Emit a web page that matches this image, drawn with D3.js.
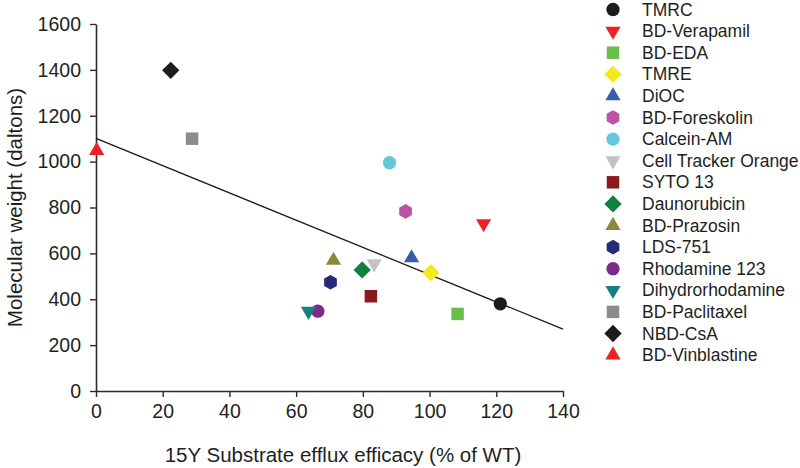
<!DOCTYPE html>
<html>
<head>
<meta charset="utf-8">
<script src="https://cdn.jsdelivr.net/npm/d3@7"></script>
<style>
  html, body { margin: 0; padding: 0; background: #fff; }
  svg { display: block; font-family: "Liberation Sans", Arial, Helvetica, sans-serif; }
</style>
</head>
<body>
<svg id="chart" width="800" height="468"></svg>
<script>
// ---- data ----
const substances = ["TMRC", "BD-Verapamil", "BD-EDA", "TMRE", "DiOC", "BD-Foreskolin",
  "Calcein-AM", "Cell Tracker Orange", "SYTO 13", "Daunorubicin", "BD-Prazosin",
  "LDS-751", "Rhodamine 123", "Dihydrorhodamine", "BD-Paclitaxel", "NBD-CsA", "BD-Vinblastine"];
const effluxEfficacy = [121.2, 116.2, 108.4, 100.4, 94.6, 92.8, 88.0, 83.4, 82.4, 79.8, 71.2,
  70.3, 66.5, 63.7, 28.8, 22.4, 0.2];
const molecularWeight = [380, 730, 336, 516, 580, 783, 995, 555, 413, 528, 569,
  474, 348, 348, 1100, 1398, 1048];
const markerShapes = ["circle", "triangleDown", "square", "diamond", "triangle", "hexagon",
  "circle", "triangleDown", "square", "diamond", "triangle",
  "hexagon", "circle", "triangleDown", "square", "diamond", "triangle"];
const markerColors = ["#1c1c1c", "#ee2127", "#6abf4b", "#f4e91c", "#3a5daa", "#bb52a4",
  "#65c7db", "#c2c2c2", "#8b1a1d", "#0f8140", "#878a3a",
  "#262a78", "#7d2b8b", "#168082", "#8c8c8c", "#1c1c1c", "#ee2127"];
const xTicks = [0, 20, 40, 60, 80, 100, 120, 140];
const yTicks = [0, 200, 400, 600, 800, 1000, 1200, 1400, 1600];
const fitX = [0, 140];
const fitY = [1101, 270];
const xTitle = "15Y Substrate efflux efficacy (% of WT)";
const yTitle = "Molecular weight (daltons)";

// ---- layout ----
const svg = d3.select("#chart");
const plot = { left: 96, right: 563, top: 24, bottom: 391 };
const x = d3.scaleLinear().domain([0, 140]).range([plot.left, plot.right]);
const y = d3.scaleLinear().domain([0, 1600]).range([plot.bottom, plot.top]);
const axisColor = "#2b2b2b";
const textColor = "#231f20";

const hexagon = {
  draw(context, size) {
    const r = Math.sqrt(size * 2 / (3 * Math.sqrt(3)));
    for (let i = 0; i < 6; i++) {
      const a = Math.PI / 3 * i - Math.PI / 2;
      const px = r * Math.cos(a), py = r * Math.sin(a);
      if (i === 0) context.moveTo(px, py); else context.lineTo(px, py);
    }
    context.closePath();
  }
};
const shapeDefs = {
  circle: { type: d3.symbolCircle, size: 140, rot: 0 },
  square: { type: d3.symbolSquare, size: 156, rot: 0 },
  diamond: { type: d3.symbolSquare, size: 150, rot: 45 },
  triangle: { type: d3.symbolTriangle, size: 100, rot: 0 },
  triangleDown: { type: d3.symbolTriangle, size: 100, rot: 180 },
  hexagon: { type: hexagon, size: 140, rot: 0 }
};
function marker(sel, shape, color) {
  const d = shapeDefs[shape];
  sel.append("path")
    .attr("d", d3.symbol().type(d.type).size(d.size)())
    .attr("transform", `rotate(${d.rot})`)
    .attr("fill", color);
}

// ---- axes ----
const xAxis = d3.axisBottom(x).tickValues(xTicks).tickFormat(d3.format("d"))
  .tickSize(6).tickSizeOuter(0).tickPadding(7);
const yAxis = d3.axisLeft(y).tickValues(yTicks).tickFormat(d3.format("d"))
  .tickSize(6).tickSizeOuter(0).tickPadding(9);

const gx = svg.append("g").attr("transform", `translate(0,${plot.bottom})`).call(xAxis);
const gy = svg.append("g").attr("transform", `translate(${plot.left},0)`).call(yAxis);
[gx, gy].forEach(g => {
  g.select(".domain").attr("stroke", axisColor).attr("stroke-width", 1.6);
  g.selectAll(".tick line").attr("stroke", axisColor).attr("stroke-width", 1.4);
  g.selectAll(".tick text").attr("fill", textColor)
    .style("font-size", "19.5px").style("font-family", "'Liberation Sans', Arial, sans-serif");
});
// axis titles
svg.append("text").attr("x", 343).attr("y", 462)
  .attr("text-anchor", "middle").attr("fill", textColor).style("font-size", "20.5px")
  .text(xTitle);
svg.append("text").attr("transform", `translate(22,${(plot.top + plot.bottom) / 2}) rotate(-90)`)
  .attr("text-anchor", "middle").attr("fill", textColor).style("font-size", "20.5px")
  .text(yTitle);

// ---- regression line ----
svg.append("path")
  .datum(fitX.map((v, i) => [v, fitY[i]]))
  .attr("d", d3.line().x(d => x(d[0])).y(d => y(d[1])))
  .attr("stroke", "#1a1a1a").attr("stroke-width", 1.3).attr("fill", "none");

// ---- points ----
const pts = svg.append("g");
substances.forEach((name, i) => {
  const g = pts.append("g").attr("transform", `translate(${x(effluxEfficacy[i])},${y(molecularWeight[i])})`);
  marker(g, markerShapes[i], markerColors[i]);
});

// ---- legend ----
const legend = svg.append("g");
substances.forEach((name, i) => {
  const cy = 9.5 + i * 21.6;
  const g = legend.append("g").attr("transform", `translate(613,${cy})`);
  marker(g, markerShapes[i], markerColors[i]);
  legend.append("text").attr("x", 642).attr("y", cy).attr("dy", "0.35em")
    .attr("fill", textColor).style("font-size", "17.5px").text(name);
});
</script>
</body>
</html>
